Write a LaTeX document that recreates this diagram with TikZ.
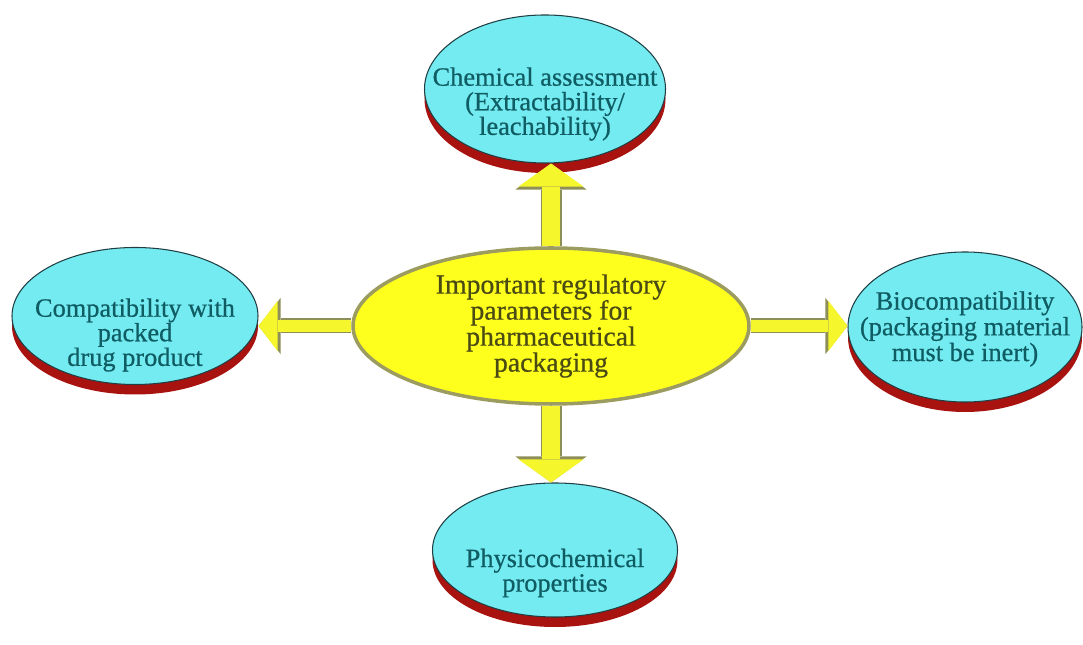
\documentclass[tikz,border=0pt]{standalone}
\usepackage{fontspec}
\setmainfont{Liberation Serif}[FakeBold=0.6]
\usetikzlibrary{shapes.geometric, arrows.meta, shadows}

\definecolor{bubblefill}{HTML}{74EBF1}
\definecolor{bubbleline}{HTML}{1F3F44}
\definecolor{bubbleink}{HTML}{0F5C63}
\definecolor{shadowred}{HTML}{A8120F}
\definecolor{hubfill}{HTML}{FFFF1E}
\definecolor{hubline}{HTML}{9C9C60}
\definecolor{hubink}{HTML}{4A4A14}
\definecolor{arrowfill}{HTML}{F6F62C}
\definecolor{arrowline}{HTML}{8E8E58}

\begin{document}
\begin{tikzpicture}[
    bubble/.style={ellipse, draw=bubbleline, line width=0.6pt, fill=bubblefill, inner sep=0pt,
        drop shadow={shadow xshift=0cm, shadow yshift=-0.2cm, fill=shadowred, opacity=1}},
    bubbletext/.style={align=center, text=bubbleink, font=\fontsize{15}{14}\selectfont},
    hub/.style={ellipse, draw=hubline, line width=2pt, fill=hubfill, inner sep=0pt,
        align=center, text=hubink, font=\fontsize{15.8}{14.8}\selectfont},
    uparrow/.style={draw=arrowfill, line width=0.36cm, -{Triangle[length=0.46cm, width=1.3cm, line width=0pt]},
        preaction={draw=arrowline, line width=0.42cm, -{Triangle[length=0.52cm, width=1.42cm, line width=0pt]}}},
    sidearrow/.style={draw=arrowfill, line width=0.24cm, -{Triangle[length=0.38cm, width=1.0cm, line width=0pt]},
        preaction={draw=arrowline, line width=0.3cm, -{Triangle[length=0.44cm, width=1.12cm, line width=0pt]}}}]

    \useasboundingbox (0,0) rectangle (21.66,12.88);

    \node[hub, minimum width=7.92cm, minimum height=3.12cm] (hub) at (11.02,6.36)
        {Important regulatory\\parameters for\\pharmaceutical\\packaging};

    \node[bubble, minimum width=4.82cm, minimum height=2.96cm,
        label={[bubbletext, yshift=-0.3cm]center:Chemical assessment\\(Extractability/\\leachability)}] (chem) at (10.90,11.10) {};
    \node[bubble, minimum width=4.92cm, minimum height=2.74cm,
        label={[bubbletext, yshift=-0.38cm]center:Compatibility with\\packed\\drug product}] (compat) at (2.70,6.56) {};
    \node[bubble, minimum width=4.68cm, minimum height=3.0cm,
        label={[bubbletext, yshift=-0.04cm, font=\fontsize{15}{11.5}\selectfont]center:Biocompatibility\\(packaging material\\must be inert)}] (bio) at (19.30,6.34) {};
    \node[bubble, minimum width=4.9cm, minimum height=2.68cm,
        label={[bubbletext, yshift=-0.46cm]center:Physicochemical\\properties}] (phys) at (11.10,1.88) {};

    % arrows drawn last so that the heads lie over the red rims
    \draw[uparrow] (hub.north) -- (hub.north |- chem.south);
    \draw[uparrow] (hub.south) -- (hub.south |- phys.north);
    \draw[sidearrow] (hub.west) -- (hub.west -| compat.east);
    \draw[sidearrow] (hub.east) -- (hub.east -| bio.west);
\end{tikzpicture}
\end{document}
